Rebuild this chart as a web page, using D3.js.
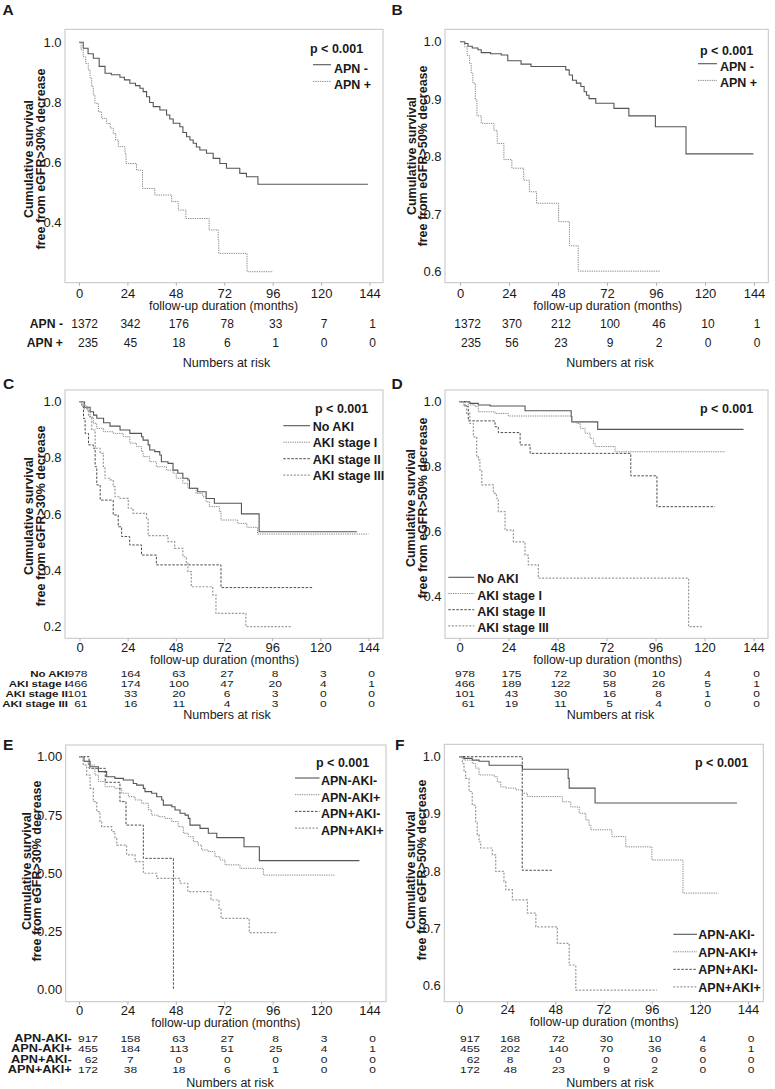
<!DOCTYPE html>
<html><head><meta charset="utf-8">
<script src="https://cdn.jsdelivr.net/npm/d3@7/dist/d3.min.js"></script>
<style>
body{margin:0;background:#fff}
svg{display:block}
text{font-family:"Liberation Sans",Arial,sans-serif;fill:#1a1a1a}
</style>
</head><body>
<svg id="chart" width="775" height="1089"></svg>
<script>
// ---------------- DATA ----------------
const months = [0, 24, 48, 72, 96, 120, 144];

// Panel A (eGFR>30%)
const aNames = ["APN -", "APN +"];
const aApnNeg = [[0,1],[2.1,0.98],[4.5,0.962],[7.1,0.947],[10,0.92],[12.9,0.897],[16,0.892],[20.3,0.884],[22.5,0.875],[25.2,0.864],[28,0.856],[30.2,0.847],[31.8,0.836],[33.5,0.819],[35,0.8],[36.8,0.786],[40.1,0.775],[43.4,0.758],[45,0.745],[46.7,0.731],[50,0.719],[51.5,0.7],[53.3,0.686],[55,0.675],[56.6,0.664],[58.2,0.652],[59.9,0.642],[63.2,0.631],[66.5,0.614],[69.8,0.597],[73.1,0.581],[79.7,0.564],[83,0.553],[88.7,0.528],[143.2,0.528]];
const aApnPos = [[0,1],[1,0.975],[2.1,0.952],[3.3,0.93],[4.6,0.908],[5.5,0.88],[6.3,0.853],[7.1,0.825],[7.9,0.797],[9.6,0.769],[11.2,0.747],[13.7,0.73],[15.5,0.715],[17,0.697],[18.2,0.675],[19.5,0.653],[22.8,0.631],[23.3,0.597],[28.5,0.575],[31.5,0.514],[37.6,0.492],[45.9,0.47],[49.2,0.442],[53,0.414],[64.5,0.376],[69,0.342],[69.3,0.298],[83.3,0.237],[96.2,0.237]];
const aRiskNeg = [1372, 342, 176, 78, 33, 7, 1];
const aRiskPos = [235, 45, 18, 6, 1, 0, 0];

// Panel B (eGFR>50%)
const bApnNeg = [[0,1],[2.3,0.997],[3.9,0.992],[6,0.989],[8.8,0.986],[10.4,0.981],[15,0.979],[20.2,0.977],[23.4,0.967],[29.9,0.961],[34.8,0.957],[51.8,0.951],[53.5,0.942],[55.1,0.933],[57,0.928],[59.2,0.922],[60.8,0.913],[62,0.907],[63.2,0.901],[66.5,0.893],[75.4,0.884],[82.7,0.871],[95.7,0.852],[110.7,0.805],[143.7,0.805]];
const bApnPos = [[0,1],[2.3,0.991],[3.5,0.976],[4.7,0.962],[5.5,0.945],[6.3,0.928],[7.5,0.899],[8.3,0.871],[10.4,0.858],[16.6,0.846],[18.2,0.823],[21.5,0.795],[25.4,0.78],[31.2,0.759],[34,0.739],[37.5,0.719],[48.3,0.687],[53.6,0.645],[57.9,0.601],[98.2,0.601]];
const bRiskNeg = [1372, 370, 212, 100, 46, 10, 1];
const bRiskPos = [235, 56, 23, 9, 2, 0, 0];

// Panel C (eGFR>30%, AKI stages)
const akiNames = ["No AKI", "AKI stage I", "AKI stage II", "AKI stage III"];
const cNoAki = [[0,1],[2.5,0.98],[5.3,0.964],[7,0.952],[8.6,0.941],[12,0.925],[15.2,0.913],[20.2,0.899],[25.1,0.887],[30.9,0.875],[31.7,0.863],[34.2,0.846],[35,0.828],[37.5,0.822],[40,0.81],[40.8,0.786],[44.1,0.78],[46.6,0.756],[49,0.745],[51.5,0.727],[54,0.721],[54.8,0.691],[58.9,0.679],[63.1,0.655],[67.2,0.638],[80.7,0.6],[89.5,0.536],[138.2,0.536]];
const cStage1 = [[0,1],[2,0.985],[3.7,0.97],[5.3,0.945],[6.9,0.923],[8.6,0.905],[11.9,0.893],[16.8,0.887],[21.8,0.875],[25.1,0.852],[28.4,0.84],[30.9,0.822],[31.7,0.804],[35,0.786],[38.3,0.768],[43.3,0.756],[46.6,0.745],[48.2,0.727],[51.5,0.709],[54,0.691],[58.1,0.673],[61.4,0.661],[63.1,0.643],[64.7,0.626],[69.7,0.608],[70.5,0.578],[78.8,0.566],[83.4,0.552],[88.7,0.528],[144,0.528]];
const cStage2 = [[0,1],[1.2,0.982],[2,0.94],[2.8,0.887],[4.5,0.846],[6.9,0.834],[7.8,0.768],[8.6,0.703],[10.3,0.649],[16.8,0.596],[19.3,0.554],[21,0.519],[25,0.489],[30.9,0.453],[38.3,0.418],[70.5,0.337],[116.6,0.337]];
const cStage3 = [[0,1],[2.5,0.975],[4.5,0.947],[6.1,0.899],[7.8,0.834],[10.3,0.816],[11.9,0.768],[12.7,0.727],[15.2,0.721],[16.8,0.697],[17.7,0.661],[20.2,0.655],[24.3,0.62],[26.7,0.602],[33.4,0.584],[34.2,0.522],[44.1,0.501],[47.4,0.477],[51.5,0.447],[53.2,0.424],[54,0.394],[55.7,0.34],[66.4,0.311],[68,0.245],[82.9,0.198],[106,0.198]];
const cRiskNoAki = [978, 164, 63, 27, 8, 3, 0];
const cRiskStage1 = [466, 174, 100, 47, 20, 4, 1];
const cRiskStage2 = [101, 33, 20, 6, 3, 0, 0];
const cRiskStage3 = [61, 16, 11, 4, 3, 0, 0];

// Panel D (eGFR>50%, AKI stages)
const dNoAki = [[0,1],[5.1,0.995],[9.2,0.99],[15,0.987],[32.1,0.972],[54.7,0.954],[55,0.938],[67.7,0.915],[139.1,0.915]];
const dStage1 = [[0,1],[4.3,0.99],[7.6,0.985],[9.2,0.969],[17.4,0.964],[23.9,0.956],[55,0.938],[57.5,0.933],[59.1,0.918],[61.5,0.903],[64,0.887],[65.6,0.872],[66.4,0.862],[76.2,0.846],[130.1,0.846]];
const dStage2 = [[0,1],[2.7,0.985],[4.3,0.941],[17.4,0.923],[19,0.905],[29.7,0.867],[34.6,0.841],[83.9,0.772],[96.7,0.677],[125.2,0.677]];
const dStage3 = [[0,1],[1.9,0.99],[3.5,0.964],[5.1,0.933],[6.8,0.892],[8.4,0.831],[9.2,0.821],[10,0.79],[10.9,0.744],[16.6,0.718],[18.1,0.703],[19,0.662],[22.3,0.605],[26.4,0.569],[32.1,0.528],[33.7,0.498],[38.6,0.457],[112.2,0.308],[118.7,0.308]];
const dRiskNoAki = [978, 175, 72, 30, 10, 4, 0];
const dRiskStage1 = [466, 189, 122, 58, 26, 5, 1];
const dRiskStage2 = [101, 43, 30, 16, 8, 1, 0];
const dRiskStage3 = [61, 19, 11, 5, 4, 0, 0];

// Panel E (eGFR>30%, APN x AKI)
const grpNames = ["APN-AKI-", "APN-AKI+", "APN+AKI-", "APN+AKI+"];
const eNegNeg = [[0,1],[2.5,0.98],[5.5,0.957],[9.6,0.936],[13.7,0.914],[17.8,0.907],[22,0.9],[26.9,0.885],[28.6,0.878],[31.9,0.864],[32.7,0.85],[36,0.843],[38.5,0.828],[41,0.814],[41.8,0.792],[46,0.785],[47.6,0.771],[50.1,0.757],[52.6,0.749],[54.2,0.735],[55,0.706],[60,0.692],[64.1,0.671],[68.3,0.652],[81.8,0.613],[89.4,0.553],[139,0.553]];
const eNegPos = [[0,1],[2,0.98],[4.6,0.964],[7.9,0.921],[9.6,0.893],[12.9,0.871],[17.8,0.864],[21.2,0.843],[24.5,0.828],[27.8,0.814],[31.1,0.8],[34.4,0.771],[36,0.749],[39.3,0.742],[42.6,0.735],[46,0.721],[49.2,0.699],[51.7,0.671],[54.2,0.656],[56.7,0.635],[59.1,0.62],[60.8,0.599],[64.1,0.592],[67.4,0.57],[69.9,0.556],[72.4,0.535],[79.8,0.52],[91.4,0.491],[126.9,0.491]];
const ePosNeg = [[0,1],[5,0.95],[13,0.89],[20.3,0.807],[23.3,0.706],[31.9,0.563],[46.8,0]];
const ePosPos = [[0,1],[2.1,0.964],[3.8,0.921],[5.5,0.864],[7.1,0.807],[8.8,0.764],[10.4,0.721],[11.2,0.699],[16.2,0.678],[17.8,0.649],[18.7,0.62],[23.6,0.578],[27.8,0.549],[31.9,0.499],[38.5,0.477],[50.1,0.456],[53.9,0.42],[65.4,0.384],[69.4,0.348],[70.4,0.305],[84.4,0.244],[97.7,0.244]];
const eRiskNegNeg = [917, 158, 63, 27, 8, 3, 0];
const eRiskNegPos = [455, 184, 113, 51, 25, 4, 1];
const eRiskPosNeg = [62, 7, 0, 0, 0, 0, 0];
const eRiskPosPos = [172, 38, 18, 6, 1, 0, 0];

// Panel F (eGFR>50%, APN x AKI)
const fNegNeg = [[0,1],[2.5,0.997],[6.6,0.994],[10,0.992],[15,0.985],[31.6,0.978],[54.4,0.962],[54.9,0.945],[67.8,0.919],[138.5,0.919]];
const fNegPos = [[0,1],[2.5,0.994],[6.6,0.988],[8.3,0.98],[10,0.968],[17.5,0.965],[19.1,0.956],[20.8,0.947],[23.3,0.945],[28.3,0.942],[31.6,0.936],[34.1,0.93],[51.5,0.921],[55.7,0.912],[59.9,0.901],[63.2,0.889],[64.8,0.88],[65.7,0.872],[76.2,0.86],[83.1,0.842],[96.1,0.819],[111.6,0.761],[129.3,0.761]];
const fPosNeg = [[0,1],[31.5,0.801],[46.3,0.801]];
const fPosPos = [[0,1],[1.7,0.988],[2.5,0.974],[3.3,0.962],[5,0.939],[6.6,0.915],[8.3,0.886],[9.1,0.863],[10,0.851],[10.8,0.84],[16.6,0.828],[18.3,0.799],[22.4,0.781],[23.3,0.767],[26.6,0.749],[34.1,0.726],[38.3,0.702],[49,0.673],[54.9,0.635],[58.2,0.591],[98.6,0.591]];
const fRiskNegNeg = [917, 168, 72, 30, 10, 4, 0];
const fRiskNegPos = [455, 202, 140, 70, 36, 6, 1];
const fRiskPosNeg = [62, 8, 0, 0, 0, 0, 0];
const fRiskPosPos = [172, 48, 23, 9, 2, 0, 0];

const pText = "p < 0.001";
const xTitle = "follow-up duration (months)";
const riskTitle = "Numbers at risk";
const yTitle30 = ["Cumulative survival", "free from eGFR>30% decrease"];
const yTitle50 = ["Cumulative survival", "free from eGFR>50% decrease"];

// ---------------- STYLES ----------------
const STY = {
  solid:  {stroke:"#555555", dash:null, w:1.1},
  dotted: {stroke:"#8a8a8a", dash:"1.3,1", w:1},
  dashed: {stroke:"#4d4d4d", dash:"2.5,1.5", w:1},
  light:  {stroke:"#999999", dash:"2,1.5", w:1.2}
};

// ---------------- LAYOUT ----------------
const panels = [
 {letter:"A", lx:2.5, ly:15, frame:[65,29.3,383,282.7], xr:[79,369.5], yd:[0.4,1.0], yr:[222.7,42.3], yt:[0.4,0.6,0.8,1.0], fmt:".1f",
  ytitle:yTitle30, tx:[33,45], ty:159, xtb:298, xtt:[223.5,310], p:[310,53.3],
  leg:{names:aNames, series:[aApnNeg,aApnPos], sty:["solid","dotted"], x1:313, x2:331, tx:334, y0:72.7, dy:16.7, lo:-8},
  risk:{rows:[aRiskNeg,aRiskPos], labels:aNames, lfs:12.2, yb:[328,347], sy:1, labelX:63, first:19, nar:[226.5,367]}},
 {letter:"B", lx:391.5, ly:15, frame:[445,29.3,768.3,282.7], xr:[460,754], yd:[0.6,1.0], yr:[271.7,41.7], yt:[0.6,0.7,0.8,0.9,1.0], fmt:".1f",
  ytitle:yTitle50, tx:[415.5,426.5], ty:156, xtb:298, xtt:[607.7,310], p:[700,55],
  leg:{names:aNames, series:[bApnNeg,bApnPos], sty:["solid","dotted"], x1:698, x2:717, tx:720, y0:70.7, dy:16.7, lo:-7},
  risk:{rows:[bRiskNeg,bRiskPos], labels:null, yb:[328,347], sy:1, labelX:0, first:21, nar:[610,367]}},
 {letter:"C", lx:3, ly:389.3, frame:[65,390,383,638.3], xr:[79.5,368.5], yd:[0.2,1.0], yr:[626,401.7], yt:[0.2,0.4,0.6,0.8,1.0], fmt:".1f",
  ytitle:yTitle30, tx:[33,45], ty:516, xtb:652.3, xtt:[224.5,664.4], p:[315,413.3],
  leg:{names:akiNames, series:[cNoAki,cStage1,cStage2,cStage3], sty:["solid","dotted","dashed","light"], x1:283.3, x2:310, tx:312.7, y0:430.7, dy:16.5, lo:-5},
  risk:{rows:[cRiskNoAki,cRiskStage1,cRiskStage2,cRiskStage3], labels:akiNames, lfs:11.5, yb:[677,687,697,706.6], sy:0.78, labelX:68, first:8, nar:[227,718.8]}},
 {letter:"D", lx:391.5, ly:389.3, frame:[445,390,768,638.3], xr:[459.5,753.5], yd:[0.4,1.0], yr:[596.7,401.7], yt:[0.4,0.6,0.8,1.0], fmt:".1f",
  ytitle:yTitle50, tx:[415,426.7], ty:508, xtb:652.3, xtt:[607.7,664.4], p:[700,413.3],
  leg:{names:akiNames, series:[dNoAki,dStage1,dStage2,dStage3], sty:["solid","dotted","dashed","light"], x1:448.3, x2:474.3, tx:477.3, y0:583.3, dy:16.2, lo:-6},
  risk:{rows:[dRiskNoAki,dRiskStage1,dRiskStage2,dRiskStage3], labels:null, yb:[677,687,697,706.6], sy:0.78, labelX:0, first:15.5, nar:[610.5,718.8]}},
 {letter:"E", lx:3, ly:750, frame:[65.7,745,386,1001.7], xr:[79,369.5], yd:[0,1.0], yr:[989.3,756.7], yt:[0,0.25,0.5,0.75,1.0], fmt:".2f",
  ytitle:yTitle30, tx:[30.7,40.7], ty:871, xtb:1014.6, xtt:[225.8,1026.8], p:[316,766.7],
  leg:{names:grpNames, series:[eNegNeg,eNegPos,ePosNeg,ePosPos], sty:["solid","dotted","dashed","light"], x1:295, x2:319.5, tx:321, y0:785, dy:16.7, lo:-7},
  risk:{rows:[eRiskNegNeg,eRiskNegPos,eRiskPosNeg,eRiskPosPos], labels:grpNames, lfs:12.8, yb:[1041.8,1052.2,1062.6,1073], sy:0.8, labelX:71.7, first:19, nar:[230,1086.5]}},
 {letter:"F", lx:395, ly:750, frame:[444.3,744.3,763.3,1001.7], xr:[459,748], yd:[0.6,1.0], yr:[985,756.7], yt:[0.6,0.7,0.8,0.9,1.0], fmt:".1f",
  ytitle:yTitle50, tx:[415,425.7], ty:870, xtb:1014.3, xtt:[604.2,1026.4], p:[695,766.7],
  leg:{names:grpNames, series:[fNegNeg,fNegPos,fPosNeg,fPosPos], sty:["solid","dotted","dashed","light"], x1:673.3, x2:697, tx:698.3, y0:939.3, dy:17.5, lo:-5},
  risk:{rows:[fRiskNegNeg,fRiskNegPos,fRiskPosNeg,fRiskPosPos], labels:null, yb:[1041.8,1052.2,1062.6,1073], sy:0.8, labelX:0, first:21, nar:[610,1086.5]}}
];

// ---------------- DRAW ----------------
const svg = d3.select("#chart");
svg.append("rect").attr("width",775).attr("height",1089).attr("fill","#fff");

function applyStyle(sel, s){
  sel.attr("fill","none").attr("stroke",s.stroke).attr("stroke-width",s.w);
  if (s.dash) sel.attr("stroke-dasharray", s.dash);
  return sel;
}

panels.forEach(P => {
  const g = svg.append("g");
  const [fx0, fy0, fx1, fy1] = P.frame;
  const x = d3.scaleLinear().domain([0,144]).range(P.xr);
  const y = d3.scaleLinear().domain(P.yd).range(P.yr);

  // panel letter
  g.append("text").attr("x",P.lx).attr("y",P.ly).attr("font-size",15.5).attr("font-weight","bold").text(P.letter);

  // frame
  g.append("rect").attr("x",fx0).attr("y",fy0).attr("width",fx1-fx0).attr("height",fy1-fy0)
    .attr("fill","none").attr("stroke","#c4c4c4").attr("stroke-width",1);

  // x axis (ticks at the frame bottom)
  const xAxis = d3.axisBottom(x).tickValues(months).tickSize(3).tickPadding(3).tickFormat(d3.format("d"));
  const xa = g.append("g").attr("transform",`translate(0,${fy1})`).call(xAxis);
  xa.select(".domain").remove();
  xa.selectAll(".tick line").attr("stroke","#b0b0b0");
  xa.selectAll(".tick text").attr("y", P.xtb - fy1).attr("dy",null)
    .attr("font-size",13).attr("font-family","Liberation Sans, Arial, sans-serif").attr("fill","#1a1a1a");

  // y axis labels
  const yAxis = d3.axisLeft(y).tickValues(P.yt).tickSize(0).tickPadding(3.5).tickFormat(d3.format(P.fmt));
  const ya = g.append("g").attr("transform",`translate(${fx0},0)`).call(yAxis);
  ya.select(".domain").remove();
  ya.selectAll(".tick text").attr("font-size",13).attr("font-family","Liberation Sans, Arial, sans-serif").attr("fill","#1a1a1a");

  // y titles
  P.ytitle.forEach((t,i) => {
    g.append("text").attr("transform",`translate(${P.tx[i]},${P.ty}) rotate(-90)`)
      .attr("text-anchor","middle").attr("font-size",12.5).attr("font-weight","bold").text(t);
  });

  // x title
  g.append("text").attr("x",P.xtt[0]).attr("y",P.xtt[1]).attr("text-anchor","middle").attr("font-size",12.3).text(xTitle);

  // curves
  const line = d3.line().x(d=>x(d[0])).y(d=>y(d[1])).curve(d3.curveStepAfter);
  P.leg.series.forEach((s,i) => {
    applyStyle(g.append("path").datum(s).attr("d",line), STY[P.leg.sty[i]]);
  });

  // p value + legend
  g.append("text").attr("x",P.p[0]).attr("y",P.p[1]).attr("font-size",12.5).attr("font-weight","bold").text(pText);
  P.leg.names.forEach((n,i) => {
    const yb = P.leg.y0 + i*P.leg.dy;
    applyStyle(g.append("line").attr("x1",P.leg.x1).attr("x2",P.leg.x2).attr("y1",yb+P.leg.lo).attr("y2",yb+P.leg.lo), STY[P.leg.sty[i]]);
    g.append("text").attr("x",P.leg.tx).attr("y",yb).attr("font-size",12.5).attr("font-weight","bold").text(n);
  });

  // risk table
  const sy = P.risk.sy;
  P.risk.rows.forEach((row,r) => {
    const yb = P.risk.yb[r];
    if (P.risk.labels) {
      g.append("text").attr("transform",`translate(${P.risk.labelX},${yb}) scale(1,${sy})`).attr("text-anchor","end")
        .attr("font-size",P.risk.lfs).attr("font-weight","bold").text(P.risk.labels[r]);
    }
    row.forEach((v,c) => {
      const xx = c === 0 ? x(months[0]) + P.risk.first : x(months[c]) + 3;
      g.append("text").attr("transform",`translate(${xx},${yb}) scale(1,${sy})`)
        .attr("text-anchor", c === 0 ? "end" : "middle").attr("font-size",12).text(v);
    });
  });
  g.append("text").attr("x",P.risk.nar[0]).attr("y",P.risk.nar[1]).attr("text-anchor","middle").attr("font-size",12.5).text(riskTitle);
});
</script>
</body></html>
